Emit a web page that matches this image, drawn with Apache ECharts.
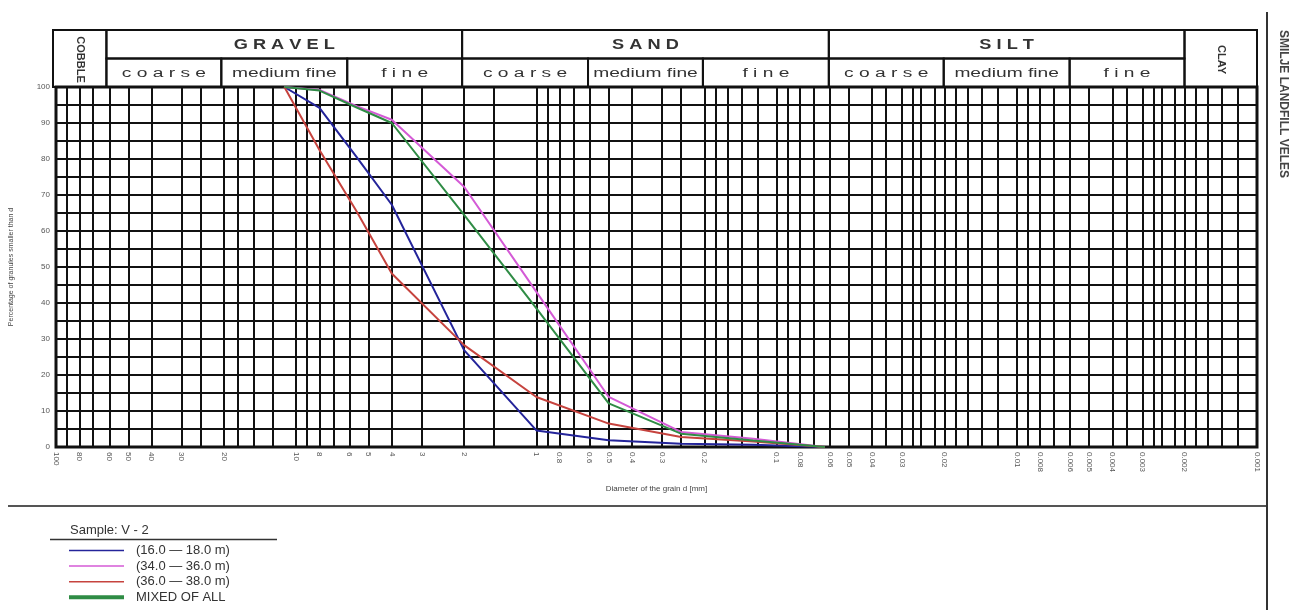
<!DOCTYPE html>
<html><head><meta charset="utf-8">
<script src="https://cdn.jsdelivr.net/npm/echarts@6/dist/echarts.min.js"></script>
<style>html,body{margin:0;padding:0;background:#fff;}#c{width:1290px;height:610px;}</style>
</head><body><div id="c"></div>
<script>
// ---- data ----
const sieveSizes = [11.2, 8, 5.6, 4, 2, 1, 0.5, 0.25, 0.125, 0.063];
const depth16_18 = [100, 94.2, 80.5, 67.3, 26.9, 4.6, 1.9, 0.9, 0.6, 0];
const depth34_36 = [100, 99.2, 94.7, 90.9, 72.3, 43.1, 13.9, 4.2, 2.3, 0];
const depth36_38 = [100, 82.5, 65.4, 48.2, 28.3, 13.9, 6.5, 2.8, 1.5, 0];
const mixedAll   = [100, 99.0, 94.3, 90.0, 64.5, 38.5, 12.1, 3.7, 1.8, 0];
const seriesNames = ['(16.0 \u2014 18.0 m)', '(34.0 \u2014 36.0 m)', '(36.0 \u2014 38.0 m)', 'MIXED OF ALL'];
const seriesColors = ['#24249a', '#d45ad6', '#c6433e', '#2f8c45'];
const xTickLabels = [100, 80, 60, 50, 40, 30, 20, 10, 8, 6, 5, 4, 3, 2, 1, 0.8, 0.6, 0.5, 0.4, 0.3, 0.2, 0.1,
  0.08, 0.06, 0.05, 0.04, 0.03, 0.02, 0.01, 0.008, 0.006, 0.005, 0.004, 0.003, 0.002, 0.001];
const xGridValues = [90, 80, 70, 60, 50, 40, 30, 25, 20, 17.5, 15, 12.5, 10,
  9, 8, 7, 6, 5, 4, 3, 2, 1.5, 1,
  0.9, 0.8, 0.7, 0.6, 0.5, 0.4, 0.3, 0.25, 0.2, 0.18, 0.16, 0.14, 0.12, 0.1,
  0.09, 0.08, 0.07, 0.06, 0.05, 0.04, 0.035, 0.03, 0.027, 0.025, 0.022, 0.02, 0.018, 0.016, 0.014, 0.012, 0.01,
  0.009, 0.008, 0.007, 0.006, 0.005, 0.004, 0.0035, 0.003, 0.0027, 0.0025, 0.0022, 0.002, 0.0018, 0.0016, 0.0014, 0.0012];
const zoneNames = ['COBBLE', 'GRAVEL', 'SAND', 'SILT', 'CLAY'];
const zoneBounds = [100, 60, 2, 0.06, 0.002, 0.001];
const subNames = ['coarse', 'medium fine', 'fine'];
const subBounds = [60, 20, 6, 2, 0.6, 0.2, 0.06, 0.02, 0.006, 0.002];

// ---- header cells ----
const headerCells = [];
zoneNames.forEach((n, i) => {
  const vertical = (n === 'COBBLE' || n === 'CLAY');
  headerCells.push([zoneBounds[i], zoneBounds[i + 1], vertical ? 0 : 1, 2, n, vertical ? 'v' : 'top']);
});
for (let g = 0; g < 3; g++) for (let s = 0; s < 3; s++) {
  const k = g * 3 + s;
  headerCells.push([subBounds[k], subBounds[k + 1], 0, 1, subNames[s], 'sub']);
}
function spaced(s) { return s.split('').join(' '); }

const FONT = 'Liberation Sans, Arial, sans-serif';
const chart = echarts.init(document.getElementById('c'), null, {renderer: 'canvas'});

function mkSeries(name, vals, color, width) {
  return {
    name: name, type: 'line', xAxisIndex: 0, yAxisIndex: 0,
    data: sieveSizes.map((d, i) => [d, vals[i]]),
    symbol: 'none', showSymbol: false, z: 6,
    lineStyle: {color: color, width: width}, itemStyle: {color: color}
  };
}

const option = {
  animation: false,
  backgroundColor: '#fff',
  textStyle: {fontFamily: FONT},
  title: {
    text: 'Sample: V - 2', left: 70, top: 524, padding: 0,
    textStyle: {fontSize: 13, fontWeight: 'normal', color: '#333', fontFamily: FONT}
  },
  legend: {
    orient: 'vertical', left: 69, top: 544, padding: 0,
    itemWidth: 55, itemHeight: 14, itemGap: 2.6, symbolKeepAspect: true,
    textStyle: {fontSize: 13, color: '#333', fontFamily: FONT, padding: [0, 0, 0, 7]},
    data: seriesNames.map((n, i) => ({
      name: n,
      icon: i === 3 ? 'path://M0,0 H55 V4 H0 Z' : 'path://M0,0 H55 V1.5 H0 Z'
    }))
  },
  grid: [
    {left: 53, right: 33, top: 87, height: 360, show: true, borderColor: '#111', borderWidth: 3, backgroundColor: 'transparent'},
    {left: 53, right: 33, top: 30, height: 57, show: false}
  ],
  xAxis: [
    {
      type: 'log', logBase: 10, gridIndex: 0, min: 0.001, max: 100, inverse: true,
      name: 'Diameter of the grain d [mm]', nameLocation: 'middle', nameGap: 38,
      nameTextStyle: {fontSize: 8, color: '#444'},
      axisLine: {show: false}, axisTick: {show: false}, splitLine: {show: false},
      axisLabel: {customValues: xTickLabels, rotate: -90, fontSize: 8, color: '#555', margin: 5,
        formatter: v => String(v)}
    },
    {type: 'log', logBase: 10, gridIndex: 1, min: 0.001, max: 100, inverse: true, show: false,
      axisLine: {show: false}, axisTick: {show: false}, splitLine: {show: false}, axisLabel: {show: false}}
  ],
  yAxis: [
    {
      type: 'value', gridIndex: 0, min: 0, max: 100, interval: 5,
      name: 'Percentage of granules smaller than d', nameLocation: 'middle', nameGap: 41, nameRotate: 90,
      nameTextStyle: {fontSize: 7, color: '#444'},
      axisLine: {show: false}, axisTick: {show: false},
      splitLine: {lineStyle: {color: '#111', width: 2}},
      axisLabel: {fontSize: 8, color: '#555', margin: 6, formatter: v => (v % 10 === 0 ? String(v) : '')}
    },
    {type: 'value', gridIndex: 1, min: 0, max: 2, show: false, splitLine: {show: false}}
  ],
  graphic: [
    {type: 'line', shape: {x1: 8, y1: 506, x2: 1267, y2: 506}, style: {stroke: '#555', lineWidth: 2}},
    {type: 'line', shape: {x1: 1267, y1: 12, x2: 1267, y2: 610}, style: {stroke: '#333', lineWidth: 2}},
    {type: 'line', shape: {x1: 50, y1: 539.5, x2: 277, y2: 539.5}, style: {stroke: '#333', lineWidth: 1.5}},
    {type: 'text', x: 1283, y: 104, rotation: -Math.PI / 2,
      style: {text: 'SMILJE LANDFILL VELES', fontSize: 12, fontWeight: 'bold', fill: '#444', fontFamily: FONT,
        align: 'center', verticalAlign: 'middle', textAlign: 'center', textVerticalAlign: 'middle'}}
  ],
  series: [
    {
      name: 'grid', type: 'line', xAxisIndex: 0, yAxisIndex: 0, data: [], silent: true, z: 1,
      markLine: {
        silent: true, z: 1, precision: 8, symbol: ['none', 'none'], animation: false,
        label: {show: false}, emphasis: {disabled: true},
        lineStyle: {color: '#111', width: 2, type: 'solid'},
        data: xGridValues.map(v => ({xAxis: v}))
      }
    },
    mkSeries(seriesNames[0], depth16_18, seriesColors[0], 2),
    mkSeries(seriesNames[1], depth34_36, seriesColors[1], 2),
    mkSeries(seriesNames[2], depth36_38, seriesColors[2], 2),
    mkSeries(seriesNames[3], mixedAll, seriesColors[3], 2),
    {
      name: 'header', type: 'custom', xAxisIndex: 1, yAxisIndex: 1, silent: true, clip: false,
      data: headerCells.map(c => [c[0], c[1], c[2], c[3]]),
      encode: {x: [0, 1], y: [2, 3]},
      renderItem: function (params, api) {
        const c = headerCells[params.dataIndex];
        const p0 = api.coord([c[0], c[3]]);
        const p1 = api.coord([c[1], c[2]]);
        const x = Math.min(p0[0], p1[0]), y = Math.min(p0[1], p1[1]);
        const w = Math.abs(p1[0] - p0[0]), h = Math.abs(p1[1] - p0[1]);
        let text = c[4], rot = 0, sx = 1, fs = 12, fw = 'normal';
        if (c[5] === 'v') { rot = -Math.PI / 2; fw = 'bold'; fs = 11; }
        else if (c[5] === 'top') { text = spaced(c[4]); fs = 14; fw = 'bold'; sx = 1.3; }
        else { text = c[4] === 'medium fine' ? c[4] : spaced(c[4]); fs = 12; sx = 1.6; }
        return {
          type: 'group',
          children: [
            {type: 'rect', shape: {x: x, y: y, width: w, height: h},
              style: {fill: 'none', stroke: '#111', lineWidth: 2}},
            {type: 'text', x: x + w / 2, y: y + h / 2 + 1, rotation: rot, scaleX: sx,
              style: {text: text, x: 0, y: 0, fill: '#333', fontSize: fs, fontWeight: fw, fontFamily: FONT,
                align: 'center', verticalAlign: 'middle', textAlign: 'center', textVerticalAlign: 'middle'}}
          ]
        };
      }
    }
  ]
};
chart.setOption(option);
</script>
</body></html>
